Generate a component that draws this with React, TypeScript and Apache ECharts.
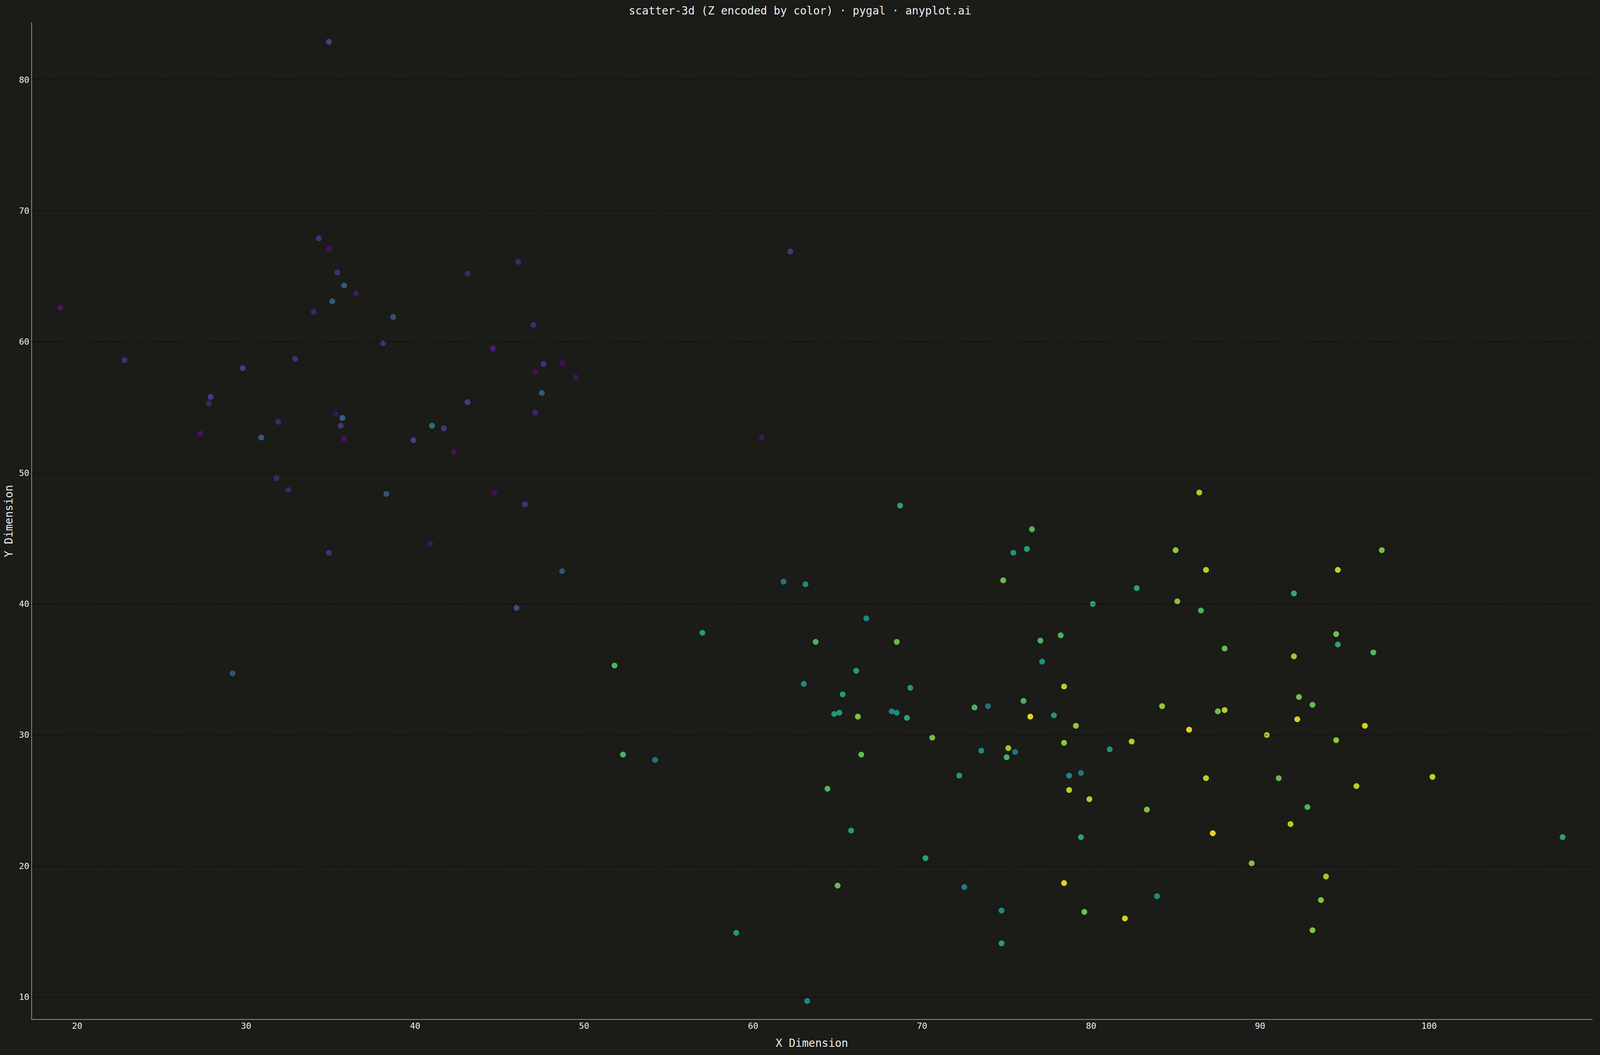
import React, { useEffect, useRef } from "react";
import * as echarts from "echarts";

const TITLE = "scatter-3d (Z encoded by color) · pygal · anyplot.ai";
const X_NAME = "X Dimension";
const Y_NAME = "Y Dimension";

// point X values
const xValues: number[] = [
  34.9, 34.3, 34.9, 46.1, 43.1, 35.4, 35.8, 36.5, 35.1, 19.0,
  34.0, 38.7, 47.0, 38.1, 44.6, 22.8, 32.9, 29.8, 47.6, 48.7,
  47.1, 47.5, 43.1, 27.9, 27.8, 47.1, 35.3, 35.7, 31.9, 35.6,
  41.0, 41.7, 27.3, 30.9, 35.8, 39.9, 42.3, 31.8, 32.5, 38.3,
  44.7, 46.5, 40.9, 34.9, 48.7, 46.0, 29.2, 62.2, 49.5, 60.5,
  68.7, 61.8, 63.1, 66.7, 57.0, 63.7, 68.5, 51.8, 66.1, 63.0,
  69.3, 65.3, 64.8, 65.1, 66.2, 68.2, 68.5, 69.1, 86.4, 76.5,
  76.2, 75.4, 85.0, 86.8, 74.8, 82.7, 80.1, 85.1, 86.5, 78.2,
  77.0, 87.9, 77.1, 78.4, 76.0, 73.1, 73.9, 84.2, 76.4, 77.8,
  87.5, 87.9, 79.1, 85.8, 97.2, 94.6, 92.0, 94.5, 94.6, 96.7,
  92.0, 92.3, 93.1, 92.2, 96.2, 90.4, 52.3, 54.2, 66.4, 64.4,
  65.8, 70.2, 65.0, 59.0, 63.2, 70.6, 72.2, 73.5, 75.1, 75.5,
  75.0, 78.4, 81.1, 82.4, 78.7, 79.4, 86.8, 78.7, 79.9, 83.3,
  87.2, 79.4, 89.5, 72.5, 78.4, 83.9, 74.7, 79.6, 82.0, 74.7,
  94.5, 91.1, 95.7, 100.2, 92.8, 91.8, 107.9, 93.9, 93.6, 93.1,
];

// point Y values
const yValues: number[] = [
  82.9, 67.9, 67.1, 66.1, 65.2, 65.3, 64.3, 63.7, 63.1, 62.6,
  62.3, 61.9, 61.3, 59.9, 59.5, 58.6, 58.7, 58.0, 58.3, 58.4,
  57.7, 56.1, 55.4, 55.8, 55.3, 54.6, 54.5, 54.2, 53.9, 53.6,
  53.6, 53.4, 53.0, 52.7, 52.6, 52.5, 51.6, 49.6, 48.7, 48.4,
  48.5, 47.6, 44.6, 43.9, 42.5, 39.7, 34.7, 66.9, 57.3, 52.7,
  47.5, 41.7, 41.5, 38.9, 37.8, 37.1, 37.1, 35.3, 34.9, 33.9,
  33.6, 33.1, 31.6, 31.7, 31.4, 31.8, 31.7, 31.3, 48.5, 45.7,
  44.2, 43.9, 44.1, 42.6, 41.8, 41.2, 40.0, 40.2, 39.5, 37.6,
  37.2, 36.6, 35.6, 33.7, 32.6, 32.1, 32.2, 32.2, 31.4, 31.5,
  31.8, 31.9, 30.7, 30.4, 44.1, 42.6, 40.8, 37.7, 36.9, 36.3,
  36.0, 32.9, 32.3, 31.2, 30.7, 30.0, 28.5, 28.1, 28.5, 25.9,
  22.7, 20.6, 18.5, 14.9, 9.7, 29.8, 26.9, 28.8, 29.0, 28.7,
  28.3, 29.4, 28.9, 29.5, 26.9, 27.1, 26.7, 25.8, 25.1, 24.3,
  22.5, 22.2, 20.2, 18.4, 18.7, 17.7, 16.6, 16.5, 16.0, 14.1,
  29.6, 26.7, 26.1, 26.8, 24.5, 23.2, 22.2, 19.2, 17.4, 15.1,
];

// point Z values (encoded by colour), 0..100
const zValues: number[] = [
  22, 15, 5, 10, 10, 15, 30, 7, 30, 7,
  10, 25, 12, 15, 10, 15, 15, 20, 15, 4,
  4, 30, 20, 20, 10, 10, 4, 35, 10, 17,
  42, 18, 6, 30, 5, 20, 5, 10, 10, 27,
  4, 15, 5, 15, 25, 27, 27, 18, 5, 5,
  63, 40, 52, 50, 60, 72, 78, 72, 60, 53,
  58, 60, 58, 60, 83, 50, 52, 63, 90, 74,
  62, 55, 85, 92, 78, 63, 63, 84, 72, 72,
  72, 78, 55, 92, 72, 72, 40, 86, 99, 56,
  80, 92, 86, 100, 80, 95, 66, 79, 63, 74,
  88, 80, 77, 97, 97, 88, 72, 42, 77, 74,
  60, 63, 78, 60, 50, 80, 60, 52, 88, 42,
  72, 85, 55, 92, 50, 42, 94, 92, 92, 83,
  100, 63, 83, 45, 97, 53, 53, 80, 97, 62,
  85, 78, 92, 94, 72, 92, 63, 88, 83, 83,
];

const yGridTicks: number[] = [10, 20, 30, 40, 50, 60, 70, 80];

const X_MIN = 17.31;
const X_MAX = 109.65;
const Y_MIN = 8.29;
const Y_MAX = 84.36;
const Z_MIN = 0;
const Z_MAX = 100;

const VIRIDIS = [
  "#440154", "#482475", "#414487", "#355f8d", "#2a788e", "#21918c",
  "#22a884", "#44bf70", "#7ad151", "#bddf26", "#fde725",
];

const BG = "#1b1b17";
const FONT = "'DejaVu Sans Mono', monospace";
const TEXT_COLOR = "#eeeeee";
const AXIS_COLOR = "#8c8c88";

const isTen = (v: number) => Math.abs(v / 10 - Math.round(v / 10)) < 1e-6;

export default function App() {
  const ref = useRef<HTMLDivElement>(null);

  useEffect(() => {
    document.body.style.margin = "0";
    document.body.style.overflow = "hidden";
    document.body.style.background = BG;
    const el = ref.current;
    if (!el) return;
    const chart = echarts.init(el, null, { renderer: "svg" });
    const w = el.clientWidth || 4800;
    const sx = w / 4800;
    const data = xValues.map((x, i) => [x, yValues[i], zValues[i]]);

    chart.setOption({
      animation: false,
      backgroundColor: BG,
      textStyle: { fontFamily: FONT },
      title: {
        text: TITLE,
        left: "center",
        top: 13,
        padding: 0,
        textStyle: {
          color: TEXT_COLOR,
          fontSize: 28,
          fontWeight: "normal",
          fontFamily: FONT,
        },
      },
      grid: {
        left: Math.round(95 * sx),
        right: Math.round(24 * sx),
        top: 58,
        bottom: 91,
        containLabel: false,
        outerBoundsMode: "none",
      },
      xAxis: {
        type: "value",
        min: X_MIN,
        max: X_MAX,
        splitNumber: 9,
        name: X_NAME,
        nameLocation: "middle",
        nameGap: 46,
        nameTextStyle: { color: TEXT_COLOR, fontSize: 28, fontFamily: FONT },
        axisLine: { show: true, onZero: false, lineStyle: { color: AXIS_COLOR, width: 2 } },
        axisTick: { show: false },
        splitLine: { show: false },
        axisLabel: {
          color: TEXT_COLOR,
          fontSize: 22,
          fontFamily: FONT,
          margin: 5,
          showMinLabel: false,
          showMaxLabel: false,
          formatter: (v: number) => (isTen(v) ? String(Math.round(v)) : ""),
        },
      },
      yAxis: {
        type: "value",
        min: Y_MIN,
        max: Y_MAX,
        splitNumber: 8,
        name: Y_NAME,
        nameLocation: "middle",
        nameGap: Math.round(53 * sx),
        nameTextStyle: { color: TEXT_COLOR, fontSize: 28, fontFamily: FONT },
        axisLine: { show: true, onZero: false, lineStyle: { color: AXIS_COLOR, width: 2 } },
        axisTick: { show: false },
        splitLine: { show: false },
        axisLabel: {
          color: TEXT_COLOR,
          fontSize: 22,
          fontFamily: FONT,
          margin: 6,
          showMinLabel: false,
          showMaxLabel: false,
          formatter: (v: number) => (isTen(v) ? String(Math.round(v)) : ""),
        },
      },
      visualMap: {
        show: false,
        type: "continuous",
        dimension: 2,
        min: Z_MIN,
        max: Z_MAX,
        inRange: { color: VIRIDIS },
      },
      series: [
        {
          type: "scatter",
          data,
          symbol: "circle",
          symbolSize: 15,
          itemStyle: { opacity: 0.9 },
          markLine: {
            silent: true,
            symbol: ["none", "none"],
            label: { show: false },
            lineStyle: { color: "#000000", width: 1.5, type: [6, 5], opacity: 0.75 },
            emphasis: { disabled: true },
            data: yGridTicks.map((v) => ({ yAxis: v })),
          },
        },
      ],
    });

    return () => chart.dispose();
  }, []);

  return <div ref={ref} style={{ width: "100vw", height: "100vh" }} />;
}
